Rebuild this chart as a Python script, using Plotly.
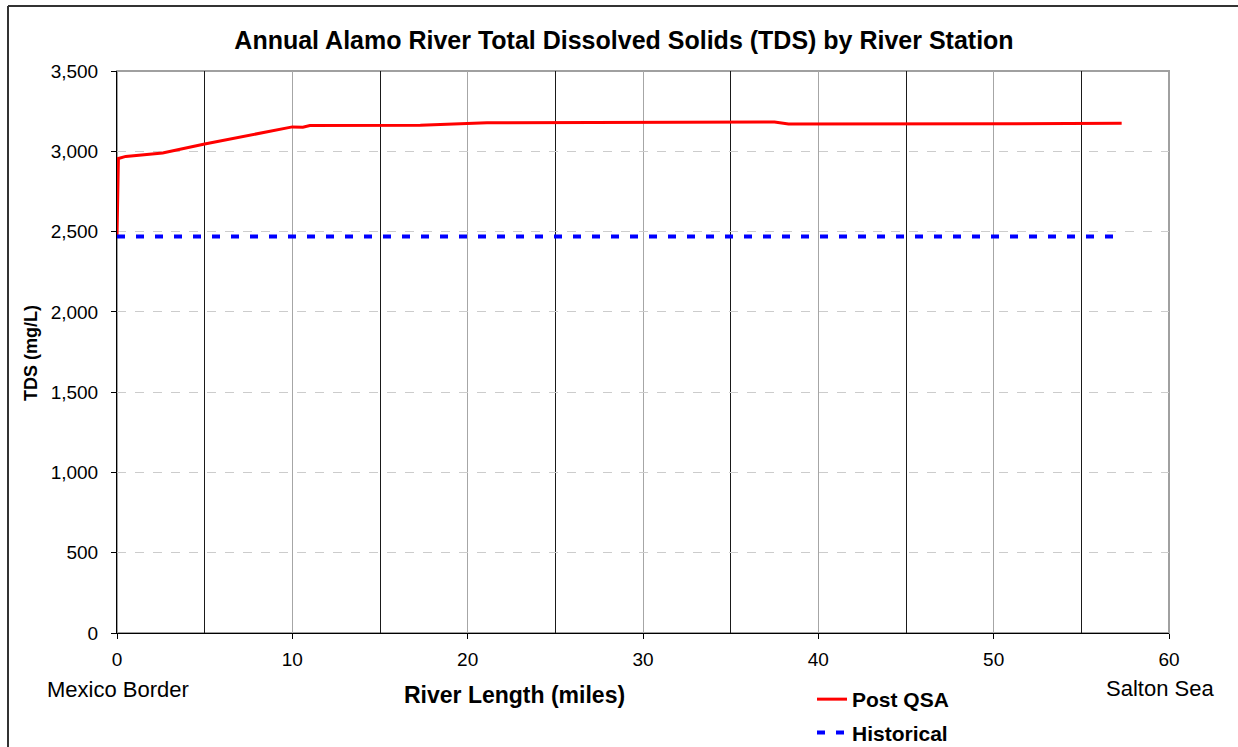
import plotly.graph_objects as go

# river stations (miles from Mexico border) and annual TDS (mg/L)
post_qsa_miles = [0, 0.08, 0.5, 2.6, 5, 10, 10.6, 11, 17.3, 19.5, 20.9, 21.1, 37.5, 38.3, 51, 57.3]
post_qsa_tds = [2470, 2955, 2968, 2990, 3045, 3152, 3150, 3160, 3162, 3172, 3174, 3178, 3182, 3170, 3172, 3175]

historical_miles = [0, 57.3]
historical_tds = [2470, 2470]

W, H = 1238, 747
L, R, T, B = 117, 69, 71, 114
pw, ph = W - L - R, H - T - B

def px(x):
    return (x - L) / pw

def py(y):
    return (H - B - y) / ph

FONT = "Arial, Liberation Sans, sans-serif"

fig = go.Figure()

fig.add_trace(go.Scatter(
    x=post_qsa_miles, y=post_qsa_tds, name="<b>Post QSA</b>", mode="lines",
    line=dict(color="#ff0000", width=3), legendgroup="a",
))
fig.add_trace(go.Scatter(
    x=historical_miles, y=historical_tds, name="<b>Historical</b>", mode="lines",
    line=dict(color="#0000ff", width=4, dash="8px,11px"), legendgroup="b",
))

fig.update_xaxes(
    range=[0, 60], dtick=10, tick0=0,
    showline=True, linecolor="black", linewidth=1,
    ticks="outside", ticklen=5, tickcolor="black",
    showgrid=True, gridcolor="#a6a6a6", gridwidth=1,
    minor=dict(dtick=5, tick0=0, showgrid=True, gridcolor="#1a1a1a", gridwidth=1),
    zeroline=False, tickfont=dict(size=19, color="black"),
    ticklabelstandoff=4,
)
fig.update_yaxes(
    range=[0, 3500], dtick=500, tickformat=",",
    showline=True, linecolor="black", linewidth=1,
    ticks="outside", ticklen=5, tickcolor="black",
    showgrid=True, gridcolor="#cccccc", griddash="dash", gridwidth=1,
    zeroline=False, tickfont=dict(size=19, color="black"),
    ticklabelstandoff=9,
)

# grey frame for top and right edges of plot area
fig.add_shape(type="rect", xref="paper", yref="paper", x0=0, x1=1, y0=0, y1=1,
              line=dict(color="#a0a0a0", width=2), layer="below")
# outer chart border (left and top edges are visible)
fig.add_shape(type="line", xref="paper", yref="paper", x0=px(8), x1=px(8), y0=py(H + 5), y1=py(6),
              line=dict(color="#333333", width=2))
fig.add_shape(type="line", xref="paper", yref="paper", x0=px(8), x1=px(W + 5), y0=py(6), y1=py(6),
              line=dict(color="#333333", width=2))

notes = [
    ("Mexico Border", 118, 689, 22),
    ("Salton Sea", 1160, 688, 22),
    ("<b>River Length (miles)</b>", 514, 695, 23),
]
for text, x, y, size in notes:
    fig.add_annotation(text=text, x=px(x), y=py(y), xref="paper", yref="paper",
                       showarrow=False, xanchor="center", yanchor="middle",
                       font=dict(size=size, color="black", family=FONT))
fig.add_annotation(text="<b>TDS (mg/L)</b>", x=px(31), y=py(353), xref="paper", yref="paper",
                   showarrow=False, textangle=-90, xanchor="center", yanchor="middle",
                   font=dict(size=18, color="black", family=FONT))

fig.update_layout(
    width=W, height=H,
    margin=dict(l=L, r=R, t=T, b=B, autoexpand=False),
    paper_bgcolor="white", plot_bgcolor="white",
    font=dict(family=FONT, color="black"),
    title=dict(text="<b>Annual Alamo River Total Dissolved Solids (TDS) by River Station</b>",
               x=624 / W, xanchor="center", y=1 - 40 / H, yanchor="middle",
               font=dict(size=25, color="black", family=FONT)),
    showlegend=True,
    legend=dict(x=px(812), y=py(679), xanchor="left", yanchor="top",
                font=dict(size=21, color="black", family=FONT), bgcolor="rgba(0,0,0,0)",
                tracegroupgap=3, itemwidth=30),
)

fig.write_html("out.html", config={"displayModeBar": False},
               post_script="document.body.style.margin='0';")
